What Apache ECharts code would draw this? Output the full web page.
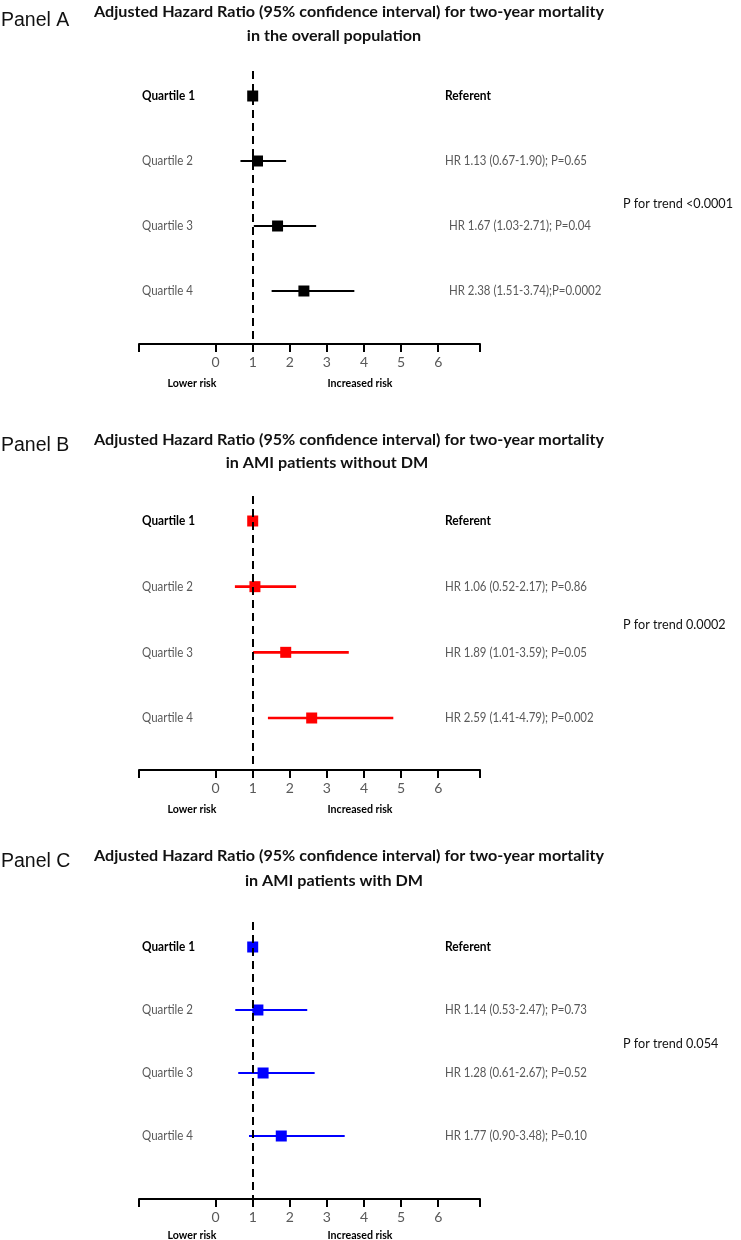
<!DOCTYPE html>
<html><head><meta charset="utf-8">
<script src="https://cdn.jsdelivr.net/npm/echarts@6/dist/echarts.min.js"></script>
<style>html,body{margin:0;padding:0;background:#fff}#c{width:741px;height:1240px}</style>
</head><body><div id="c"></div>
<script>
// ---------- data ----------
const categories = ['Quartile 1', 'Quartile 2', 'Quartile 3', 'Quartile 4'];
const tickLabels = [0, 1, 2, 3, 4, 5, 6];
const panelNames = ['Panel A', 'Panel B', 'Panel C'];
const titleLine1 = 'Adjusted Hazard Ratio (95% confidence interval) for two-year mortality';
const titleLine2 = ['in the overall population', 'in AMI patients without DM', 'in AMI patients with DM'];
const hrA = [1, 1.13, 1.67, 2.38];
const loA = [null, 0.67, 1.03, 1.51];
const hiA = [null, 1.90, 2.71, 3.74];
const hrB = [1, 1.06, 1.89, 2.59];
const loB = [null, 0.52, 1.01, 1.41];
const hiB = [null, 2.17, 3.59, 4.79];
const hrC = [1, 1.14, 1.28, 1.77];
const loC = [null, 0.53, 0.61, 0.90];
const hiC = [null, 2.47, 2.67, 3.48];
const resultA = ['Referent', 'HR 1.13 (0.67-1.90); P=0.65', 'HR 1.67 (1.03-2.71); P=0.04', 'HR 2.38 (1.51-3.74);P=0.0002'];
const resultB = ['Referent', 'HR 1.06 (0.52-2.17); P=0.86', 'HR 1.89 (1.01-3.59); P=0.05', 'HR 2.59 (1.41-4.79); P=0.002'];
const resultC = ['Referent', 'HR 1.14 (0.53-2.47); P=0.73', 'HR 1.28 (0.61-2.67); P=0.52', 'HR 1.77 (0.90-3.48); P=0.10'];
const trendText = ['P for trend <0.0001', 'P for trend 0.0002', 'P for trend 0.054'];
const riskLabels = ['Lower risk', 'Increased risk'];
const referenceValue = 1;

// ---------- layout ----------
const hr = [hrA, hrB, hrC], lo = [loA, loB, loC], hi = [hiA, hiB, hiC];
const results = [resultA, resultB, resultC];
const XMIN = -2.065, XMAX = 7.127;
const GRID_LEFT = 139, GRID_W = 341;
const layout = [
  {label: 21, t1: 12, t2: 36, t2x: 334, top: 71, axis: 344, q1: 96, q4: 291, trend: 203, risk: 383, hrDx: [0, 0, 4, 4], color: '#000000', lw: 2},
  {label: 446, t1: 440, t2: 463, t2x: 327, top: 496, axis: 770, q1: 521, q4: 718, trend: 624, risk: 809, hrDx: [0, 0, 0, 0], color: '#ff0000', lw: 2.6},
  {label: 862, t1: 856, t2: 881, t2x: 334, top: 922, axis: 1199, q1: 947, q4: 1136, trend: 1043, risk: 1235, hrDx: [0, 0, 0, 0], color: '#0000ff', lw: 2.2}
];
const FONT = 'Lato';
const GRAY = '#595959';

// horizontal condensing so Lato reproduces the (Calibri) text widths of the source
const cv = document.createElement('canvas').getContext('2d');
function fit(font, s, w) { cv.font = font + ' ' + FONT; return w / cv.measureText(s).width; }
const S = {
  title: fit('bold 15px', titleLine1, 510),
  qBold: fit('bold 13px', categories[0], 53),
  qReg: fit('13px', categories[1], 51),
  refBold: fit('bold 13px', resultA[0], 46),
  hr: fit('13px', resultA[1], 142),
  trend: fit('14px', trendText[0], 110),
  risk: fit('bold 11.5px', riskLabels[1], 65)
};

const chart = echarts.init(document.getElementById('c'), null, {renderer: 'canvas'});

const grids = [], xAxes = [], yAxes = [], series = [];
layout.forEach((L, p) => {
  const sp = (L.q4 - L.q1) / 3;
  grids.push({left: GRID_LEFT, width: GRID_W, top: L.top, height: L.axis - L.top});
  xAxes.push({
    gridIndex: p, type: 'value', min: XMIN, max: XMAX,
    axisLine: {show: true, onZero: false, lineStyle: {color: '#000', width: 2}},
    axisTick: {show: true, length: 8, lineStyle: {color: '#000', width: 2},
      customValues: [XMIN].concat(tickLabels, [XMAX])},
    axisLabel: {show: true, customValues: tickLabels, color: GRAY, fontSize: 14, fontFamily: FONT, margin: 11},
    splitLine: {show: false}
  });
  yAxes.push({
    gridIndex: p, type: 'value', inverse: true,
    min: 1 - (L.q1 - L.top) / sp, max: 4 + (L.axis - L.q4) / sp,
    show: false, splitLine: {show: false}
  });
  const ciData = [];
  hr[p].forEach((v, i) => { if (lo[p][i] != null) ciData.push([lo[p][i], hi[p][i], i + 1]); });
  series.push({
    type: 'custom', xAxisIndex: p, yAxisIndex: p, data: ciData, z: 2, silent: true,
    renderItem: function (params, api) {
      const a = api.coord([api.value(0), api.value(2)]);
      const b = api.coord([api.value(1), api.value(2)]);
      return {type: 'line', shape: {x1: a[0], y1: a[1], x2: b[0], y2: b[1]},
        style: {stroke: L.color, lineWidth: L.lw}};
    }
  });
  series.push({
    type: 'scatter', xAxisIndex: p, yAxisIndex: p, symbol: 'rect', symbolSize: 11, z: 3, silent: true,
    itemStyle: {color: L.color, opacity: 1},
    data: hr[p].map((v, i) => [v, i + 1]),
    markLine: {silent: true, symbol: 'none', animation: false, label: {show: false},
      lineStyle: {type: [8, 5], color: '#000', width: 2},
      data: [{xAxis: referenceValue}]}
  });
});

chart.setOption({
  animation: false,
  grid: grids, xAxis: xAxes, yAxis: yAxes, series: series
});

function txt(text, x, y, font, color, align, scale, family) {
  return {type: 'text', x: x, y: y, scaleX: scale, silent: true,
    style: {text: text, fill: color, font: font + ' ' + (family || FONT),
      textAlign: align, textVerticalAlign: 'middle'}};
}
const g = [];
layout.forEach((L, p) => {
  g.push(txt(panelNames[p], 1, L.label, '19.5px', '#111', 'left', 1, '"Liberation Sans", Arial'));
  g.push(txt(titleLine1, 349, L.t1, 'bold 15px', '#111', 'center', S.title));
  g.push(txt(titleLine2[p], L.t2x, L.t2, 'bold 15px', '#111', 'center', S.title));
  categories.forEach((c, i) => {
    const y = chart.convertToPixel({xAxisIndex: p, yAxisIndex: p}, [referenceValue, i + 1])[1];
    if (i === 0) {
      g.push(txt(c, 142, y, 'bold 13px', '#000', 'left', S.qBold));
      g.push(txt(results[p][i], 445 + L.hrDx[i], y, 'bold 13px', '#000', 'left', S.refBold));
    } else {
      g.push(txt(c, 142, y, '13px', GRAY, 'left', S.qReg));
      g.push(txt(results[p][i], 445 + L.hrDx[i], y, '13px', GRAY, 'left', S.hr));
    }
  });
  g.push(txt(trendText[p], 623, L.trend, '14px', '#111', 'left', S.trend));
  g.push(txt(riskLabels[0], 192, L.risk, 'bold 11.5px', '#000', 'center', S.risk));
  g.push(txt(riskLabels[1], 360, L.risk, 'bold 11.5px', '#000', 'center', S.risk));
});
chart.setOption({graphic: {elements: g}});
</script>
</body></html>
